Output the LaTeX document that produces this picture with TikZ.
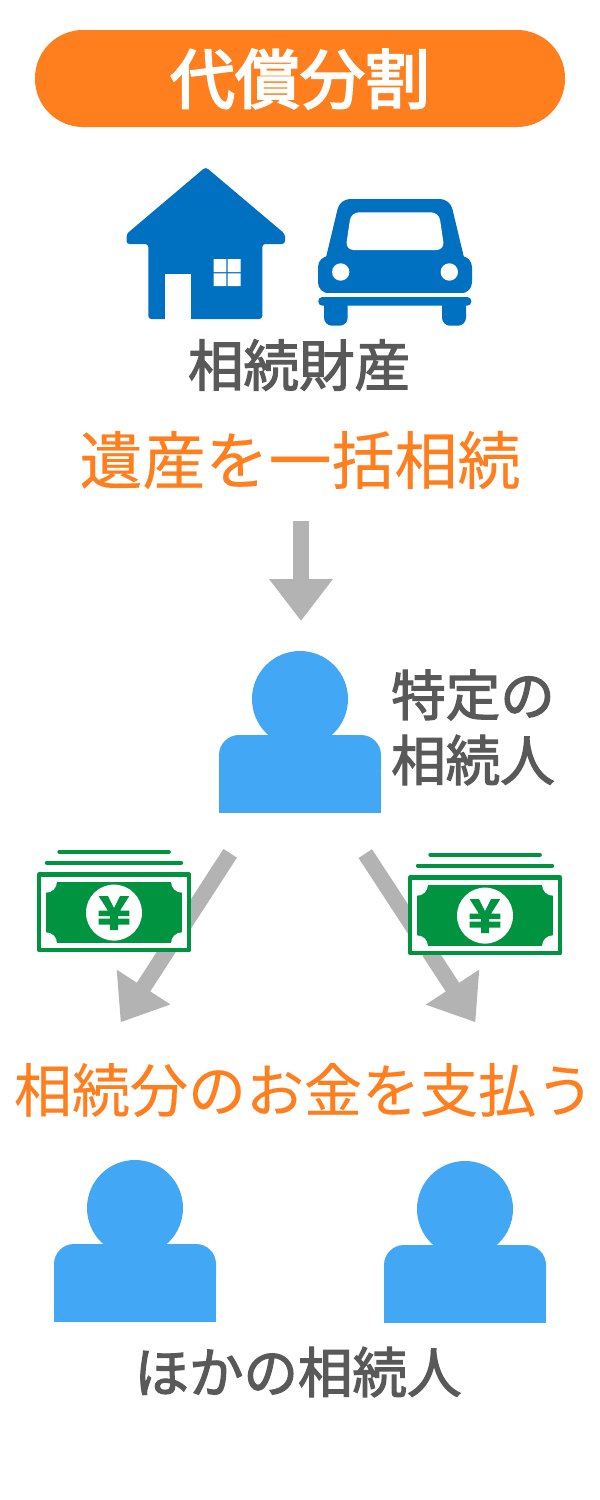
\documentclass[tikz,border=0pt]{standalone}
\usepackage{fontspec}
\setmainfont{Noto Sans CJK JP}
\newfontfamily\labfont{Noto Sans CJK JP}[FakeBold=2.2]
\newfontfamily\hlfont{Noto Sans CJK JP}[FakeBold=0.3]
\newfontfamily\titlefont{Noto Sans CJK JP}[FakeBold=3]
\usetikzlibrary{arrows.meta}
\definecolor{orangeC}{HTML}{FF7F1E}
\definecolor{blueC}{HTML}{0070C0}
\definecolor{skyC}{HTML}{42A7F5}
\definecolor{grayC}{HTML}{B3B3B3}
\definecolor{greenC}{HTML}{009440}
\definecolor{textC}{HTML}{595959}
\tikzset{
  lab/.style={text=textC,inner sep=0pt,font=\labfont\fontsize{#1}{#1}\selectfont},
  hl/.style={text=orangeC,inner sep=0pt,font=\hlfont\fontsize{#1}{#1}\selectfont},
  bigarrow/.style={draw=grayC,line width=16pt,-{Triangle[length=42pt,width=61pt,fill=grayC]}},
  billline/.style={draw=greenC,line width=4.4pt,line cap=round},
}
\newcommand{\personicon}[2]{%
  \begin{scope}[shift={(#1,#2)}]
    \fill[skyC] (0,0) circle (48);
    \fill[skyC,rounded corners=20pt] (-81,36) rectangle (81,90);
    \fill[skyC] (-81,60) rectangle (81,114);
  \end{scope}}
\newcommand{\billicon}[2]{%
  \begin{scope}[shift={(#1,#2)}]
    \draw[billline] (59.5,851.7) -- (168.7,851.7);
    \draw[billline] (47,862.7) -- (181,862.7);
    \fill[white] (39.2,874.5) rectangle (189.2,950.2);
    \fill[greenC] (46,881.7) rectangle (182,943.3);
    \fill[white] (46,881.7) circle (11) (182,881.7) circle (11) (46,943.3) circle (11) (182,943.3) circle (11);
    \draw[draw=greenC,line width=4.4pt,line join=round] (39.2,874.5) rectangle (189.2,950.2);
    \fill[white] (114,912.6) circle (28);
    \fill[greenC] (98.6,896) -- (108,896) -- (114,908) -- (120,896) -- (129.3,896) -- (120,910.7)
      -- (129.3,910.7) -- (129.3,916) -- (118,916) -- (118,918.7) -- (129.3,918.7) -- (129.3,924.7)
      -- (118,924.7) -- (118,930) -- (110,930) -- (110,924.7) -- (98.6,924.7) -- (98.6,918.7)
      -- (110,918.7) -- (110,916) -- (98.6,916) -- (98.6,910.7) -- (108,910.7) -- cycle;
  \end{scope}}
\begin{document}
\begin{tikzpicture}[x=1pt,y=-1pt]
\useasboundingbox (0,0) rectangle (600,1500);
\fill[white] (0,0) rectangle (600,1500);
% title
\fill[orangeC,rounded corners=48pt] (35,30) rectangle (565,127);
\node[inner sep=0pt,text=white,font=\titlefont\fontsize{65}{65}\selectfont] (title) at (300,79) {代償分割};
% house
\fill[blueC,rounded corners=3pt] (205.7,167) -- (285,234) -- (285,244) -- (262.3,244) -- (262.3,319) -- (148.3,319) -- (148.3,244) -- (126.5,244) -- (126.5,234) -- cycle;
\fill[white] (164.7,273.7) rectangle (191,320);
\fill[white] (213.7,259) rectangle (226.3,272) (227.7,259) rectangle (240.7,272) (213.7,273.3) rectangle (226.3,286) (227.7,273.3) rectangle (240.7,286);
% car
\fill[blueC,rounded corners=10pt] (340,199) -- (450,199) -- (467,270) -- (323,270) -- cycle;
\fill[blueC,rounded corners=11pt] (318,256) rectangle (472,293.3);
\fill[white,rounded corners=8pt] (351,212.3) -- (439,212.3) -- (444.5,250) -- (345.5,250) -- cycle;
\fill[white] (340.7,272) circle (8.7) (449.3,272) circle (8.7);
\fill[blueC,rounded corners=4pt] (318.3,297) rectangle (471.3,305.7);
\fill[blueC,rounded corners=8pt] (324,295) rectangle (347.7,325.7);
\fill[blueC,rounded corners=8pt] (442,295) rectangle (466,325.7);
\fill[white] (318,293.3) rectangle (472,297);
% texts
\node[lab=55.5] (estate) at (299,365) {相続財産};
\node[hl=63] (inherit) at (300,460) {遺産を一括相続};
\node[lab=54.5] (spec1) at (473,695) {特定の};
\node[lab=54.5] (spec2) at (473,760) {相続人};
\node[hl=58] (pay) at (304,1090) {相続分のお金を支払う};
\node[lab=54.5] (others) at (298,1372) {ほかの相続人};
% arrows
\coordinate (a1s) at (301,521);
\coordinate (a1e) at (301,621);
\coordinate (a2s) at (230.2,853.3);
\coordinate (a2e) at (120.7,1022.3);
\coordinate (a3s) at (365.3,853.6);
\coordinate (a3e) at (475.4,1022.3);
\draw[bigarrow] (a1s) -- (a1e);
\draw[bigarrow] (a2s) -- (a2e);
\draw[bigarrow] (a3s) -- (a3e);
% people
\personicon{300}{699}
\personicon{135}{1208}
\personicon{465}{1209}
% bills
\billicon{0}{0}
\billicon{371}{3}
\end{tikzpicture}
\end{document}
